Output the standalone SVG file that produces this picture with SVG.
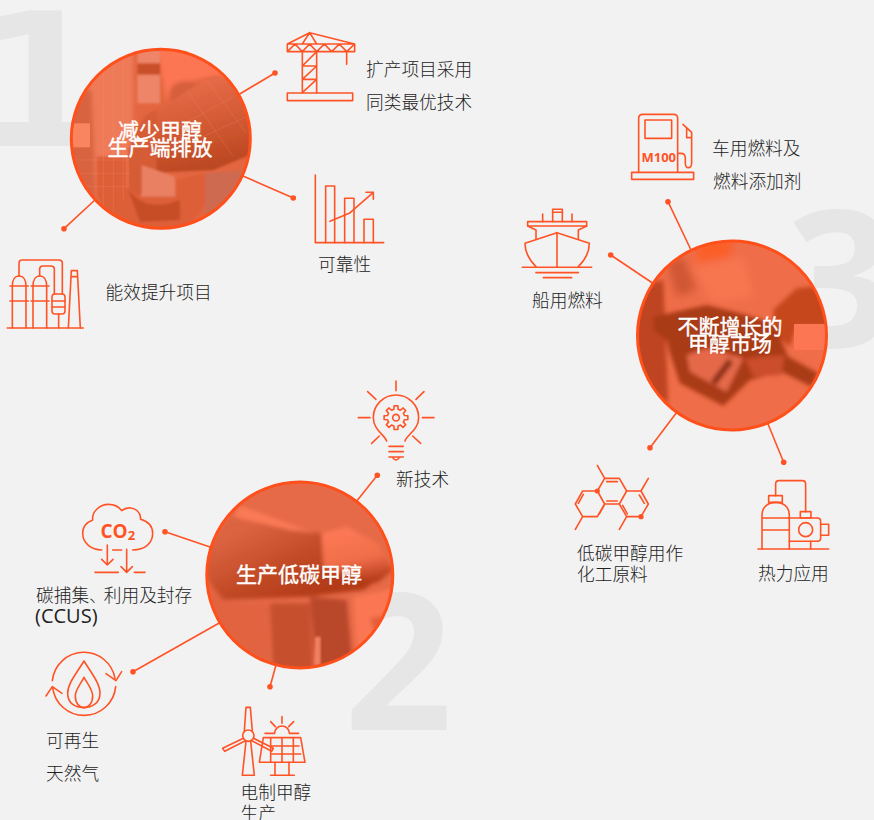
<svg xmlns="http://www.w3.org/2000/svg" width="874" height="820" viewBox="0 0 874 820">
<style>
.num{font-family:"Open Sans","DejaVu Sans",sans-serif;font-weight:700;font-size:190px;fill:#e6e6e6}
.lb{font-family:"Noto Sans CJK SC","Noto Sans",sans-serif;font-size:17.7px;font-weight:300;fill:#222}
.lat{font-family:"Open Sans","Noto Sans CJK SC",sans-serif;font-size:20px;fill:#222}
.tt{font-family:"Noto Sans CJK SC",sans-serif;font-size:21px;font-weight:400;fill:#fff;text-anchor:middle;stroke:#fff;stroke-width:.4}
.ic{fill:none;stroke:#ff5326;stroke-width:4.8;stroke-linejoin:round;stroke-linecap:round}
.icb{font-family:"Open Sans",sans-serif;font-weight:700;fill:#ff5326}
.con line{stroke:#ff5326;stroke-width:1.6}
.con circle{fill:#ff5326}
.ring{fill:none;stroke:#ff4f1a;stroke-width:3}
</style>
<defs>
<clipPath id="c1"><circle cx="160.8" cy="138.8" r="89"/></clipPath>
<clipPath id="c2"><circle cx="299.8" cy="575" r="93"/></clipPath>
<clipPath id="c3"><circle cx="732" cy="335.5" r="95"/></clipPath>
<filter id="b3" x="-15%" y="-15%" width="130%" height="130%"><feGaussianBlur stdDeviation="3"/></filter>
<filter id="b6" x="-15%" y="-15%" width="130%" height="130%"><feGaussianBlur stdDeviation="6"/></filter>
<filter id="b12" x="-15%" y="-15%" width="130%" height="130%"><feGaussianBlur stdDeviation="12"/></filter>
<linearGradient id="p1" gradientUnits="userSpaceOnUse" x1="560" y1="260" x2="620" y2="520"><stop offset="0" stop-color="#e56a46"/><stop offset=".55" stop-color="#cf5730"/><stop offset="1" stop-color="#b8451f"/></linearGradient>
<linearGradient id="p2" gradientUnits="userSpaceOnUse" x1="230" y1="440" x2="350" y2="690"><stop offset="0" stop-color="#dc6441"/><stop offset=".6" stop-color="#c04824"/><stop offset="1" stop-color="#b23a18"/></linearGradient>
<linearGradient id="p3" gradientUnits="userSpaceOnUse" x1="470" y1="490" x2="500" y2="640"><stop offset="0" stop-color="#fc7854"/><stop offset=".55" stop-color="#f06d49"/><stop offset="1" stop-color="#b63d1c"/></linearGradient>
</defs>
<rect width="874" height="820" fill="#f2f2f2"/>
<g id="digits">
<text class="num" x="-24" y="146" style="font-family:'DejaVu Sans',sans-serif;font-size:186px">1</text>
<text class="num" x="344" y="730">2</text>
<text class="num" x="786" y="347">3</text>
</g>
<g class="con" id="connectors">
<line x1="275" y1="73" x2="238" y2="95"/><circle cx="275" cy="73" r="2.8"/>
<line x1="293.3" y1="198" x2="243" y2="176"/><circle cx="293.3" cy="198" r="2.8"/>
<line x1="64" y1="228.7" x2="96" y2="199"/><circle cx="64" cy="228.7" r="2.8"/>
<line x1="668" y1="201.7" x2="691" y2="250"/><circle cx="668" cy="201.7" r="2.8"/>
<line x1="610.7" y1="255" x2="654" y2="284"/><circle cx="610.7" cy="255" r="2.8"/>
<line x1="650" y1="447.7" x2="677" y2="412"/><circle cx="650" cy="447.7" r="2.8"/>
<line x1="783.7" y1="462.3" x2="768" y2="424"/><circle cx="783.7" cy="462.3" r="2.8"/>
<line x1="377.3" y1="475.3" x2="356" y2="502"/><circle cx="377.3" cy="475.3" r="2.8"/>
<line x1="165" y1="531.7" x2="213" y2="548"/><circle cx="165" cy="531.7" r="2.8"/>
<line x1="133" y1="671.7" x2="221" y2="622"/><circle cx="133" cy="671.7" r="2.8"/>
<line x1="270" y1="686.7" x2="276" y2="665"/><circle cx="270" cy="686.7" r="2.8"/>
</g>
<g id="node-reduce">
<g clip-path="url(#c1)">
<rect x="70" y="48" width="182" height="182" fill="#e36640"/>
<g transform="scale(.3333)">
<g filter="url(#b6)">
<polygon points="470,140 760,140 760,300 660,225 560,245 500,300" fill="#fd7653"/>
<polygon points="205,140 400,140 400,700 205,700" fill="#ee7a58"/>
<polygon points="205,270 275,270 290,620 205,620" fill="#d9633f"/>
<ellipse cx="555" cy="285" rx="48" ry="42" fill="#d75f3a"/>
</g>
<rect x="215" y="370" width="55" height="72" fill="#f98560"/>
<g filter="url(#b3)">
<rect x="412" y="150" width="68" height="160" fill="#ee8567"/>
<rect x="412" y="190" width="68" height="34" fill="#c9502a"/>
<path d="M430,345 L520,300 L620,235 L690,230 L750,340 L750,465 L640,510 L430,520 Z" fill="url(#p1)"/>
<path d="M385,450 C420,360 440,340 470,330 L470,560 L385,600 Z" fill="#d65c35"/>
<path d="M290,470 L290,590 Q340,690 450,690 Q590,690 615,610 L615,520 L530,540 L530,590 L420,590 L380,560 L380,470 Z" fill="#dd5f38"/>
<polygon points="425,495 525,530 525,590 425,590" fill="#e98062"/>
<path d="M385,570 Q440,640 540,600 L540,660 L420,665 Z" fill="#c64d27"/>
<polygon points="615,520 750,510 750,640 615,650" fill="#cd6b50"/>
</g>
<path d="M310,170 V640 M340,150 V660 M370,150 V600 M215,480 H390 M215,520 H390 M220,560 H390 M560,270 L700,470 M620,240 L740,400 M500,400 L700,290 M520,450 L740,350" fill="none" stroke="#f7a184" stroke-width="1.6" opacity=".35"/>
</g>
</g>
<circle class="ring" cx="160.8" cy="138.8" r="89.5"/>
<text class="tt" x="160" y="138">减少甲醇</text>
<text class="tt" x="160" y="155">生产端排放</text>
</g>
<g id="node-expand">
<g class="ic" transform="translate(270 20) scale(.3333)">
<path d="M52,72 L119,38 L254,72 M52,72 H254 V95 H52 Z M52,95 L75,72 L97,95 L119,72 L140,95 L163,72 L185,95 L208,72 L230,95 L254,72 M97,72 L119,38 L140,72"/>
<path d="M97,95 V218 M140,95 V218 M97,138 H140 M97,178 H140 M97,138 L140,95 M97,178 L140,138 M97,218 L140,178"/>
<rect x="52" y="219" width="196" height="23"/>
<path d="M230,95 V133"/>
</g>
<text class="lb" x="366" y="76">扩产项目采用</text>
<text class="lb" x="366" y="109">同类最优技术</text>
</g>
<g id="node-reliability">
<g class="ic" transform="translate(270 20) scale(.3333)">
<path d="M136,465 V668 H341"/>
<path d="M167,668 V498 H194 V668 M224,668 V535 H252 V668 M282,668 V598 H310 V668"/>
<path d="M180,604 L238,580 L310,517 M288,517 H310 V538"/>
</g>
<text class="lb" x="318" y="271">可靠性</text>
</g>
<g id="node-efficiency">
<g class="ic" transform="scale(.3333)">
<path d="M22,984 H250"/>
<path d="M37,984 V858 C37,840 45,828 57,828 C70,828 78,840 78,858 V984 M99,984 V858 C99,840 107,828 119,828 C132,828 140,840 140,858 V984"/>
<path d="M30,858 H85 M30,903 H85 M93,858 H147 M93,903 H147"/>
<path d="M57,828 V790 Q57,780 67,780 H177 Q187,780 187,790 V882 M119,828 V808 Q119,798 129,798 H153 Q163,798 163,808 V882"/>
<rect x="156" y="882" width="39" height="60" rx="9"/>
<path d="M156,903 H195 M156,921 H195 M176,942 V984"/>
<path d="M205,984 L214,812 H232 L241,984 M214,830 H232"/>
</g>
<text class="lb" x="105.500" y="299">能效提升项目</text>
</g>
<g id="node-market">
<g clip-path="url(#c3)">
<rect x="636" y="239" width="192" height="193" fill="#ef6d49"/>
<g transform="translate(510 100) scale(.3333)">
<g filter="url(#b12)">
<polygon points="560,415 670,415 660,470 560,490" fill="#fb5f25"/>
<polygon points="550,500 700,470 730,590 610,610" fill="#f87650"/>
<polygon points="470,480 520,470 560,570 500,590" fill="#cf5733"/>
</g>
<g filter="url(#b6)">
<polygon points="375,560 460,540 475,910 430,880 375,800" fill="#bf4520"/>
<polygon points="790,630 860,565 955,555 955,680 860,680 840,740 790,700" fill="#c6461f"/>
<path d="M430,650 L590,615 L690,640 L790,670 L835,770 L925,820 L905,860 L815,815 L720,840 L640,918 L510,850 L480,760 L470,720 L430,690 Z" fill="#a93a17"/>
<path d="M530,765 L590,745 L700,775 L650,875 L540,815 Z" fill="#e5694a"/>
<path d="M610,850 L662,782" stroke="#8c2f12" stroke-width="20" fill="none"/>
<polygon points="705,775 825,765 815,825 730,830" fill="#cb4e29"/>
</g>
<rect x="852" y="672" width="105" height="78" fill="#fd7653"/>
</g>
</g>
<circle class="ring" cx="732" cy="335.5" r="94.5"/>
<text class="tt" x="730" y="334">不断增长的</text>
<text class="tt" x="730" y="351">甲醇市场</text>
</g>
<g id="node-vehicle">
<g class="ic" transform="translate(510 100) scale(.3333)">
<path d="M386,215 V55 Q386,43 398,43 H491 Q503,43 503,55 V215"/>
<rect x="405" y="60" width="80" height="55"/>
<rect x="365" y="217" width="186" height="21"/>
<path d="M503,160 H513 Q526,160 526,175 V188 Q526,203 535,203 Q545,203 545,188 V97 L519,73 M530,85 V113 H545"/>
</g>
<text class="icb" x="641.5" y="162" font-size="13">M100</text>
<text class="lb" x="712" y="155">车用燃料及</text>
<text class="lb" x="713" y="188">燃料添加剂</text>
</g>
<g id="node-ship">
<g class="ic" transform="translate(510 100) scale(.3333)">
<rect x="53" y="365" width="177" height="13"/>
<path d="M128,365 V328 H157 V365 M128,337 H157 M98,342 V365 M186,342 V365"/>
<path d="M53,378 L78,390 V418 M230,378 L205,390 V418"/>
<path d="M78,500 C58,480 45,460 45,430 L141,398 L238,430 C238,460 225,480 205,500"/>
<path d="M141,398 V502 M37,502 H245 M78,518 H205 M100,533 H185"/>
</g>
<text class="lb" x="532" y="307">船用燃料</text>
</g>
<g id="node-chem">
<g class="ic" transform="translate(560 440) scale(.3333)">
<path d="M112,153 H68 L46,192 L68,230 H112 L134,192 L112,153 L134,115 H178 L200,153 L178,192 H134"/>
<path d="M200,153 H243 L265,192 L243,230 H200 L178,192"/>
<path d="M112,76 L134,115 M243,153 L265,115 M68,230 L46,268 M200,230 L178,268"/>
<path d="M70,163 L55,190 M118,222 L132,196 M140,125 H172 M140,183 H172 M188,196 L202,222 M238,165 L253,190"/>
</g>
<circle cx="597.3" cy="491" r="2.6" fill="#ff5326"/>
<circle cx="641" cy="516.7" r="2.6" fill="#ff5326"/>
<text class="lb" x="577" y="560">低碳甲醇用作</text>
<text class="lb" x="577" y="581">化工原料</text>
</g>
<g id="node-heat">
<g class="ic" transform="translate(560 440) scale(.3333)">
<path d="M594,327 H806"/>
<path d="M606,327 V225 C606,200 625,187 647,187 C670,187 688,200 688,225 V327 M606,234 H688 M606,270 H688"/>
<rect x="626" y="167" width="41" height="20"/>
<path d="M647,167 V132 Q647,122 657,122 H727 Q737,122 737,132 V215"/>
<rect x="721" y="215" width="32" height="19"/>
<path d="M688,234 H772 Q782,234 782,244 V294 Q782,304 772,304 H688"/>
<circle cx="737" cy="269" r="21"/>
<path d="M782,253 H806 V286 H782 M752,304 V327"/>
</g>
<text class="lb" x="758" y="580">热力应用</text>
</g>
<g id="node-lowcarbon">
<g clip-path="url(#c2)">
<rect x="205" y="480" width="190" height="190" fill="#e66a47"/>
<g transform="translate(190 370) scale(.3333)">
<g filter="url(#b6)">
<polygon points="40,600 60,520 150,400 340,480 395,490 400,570 560,600 570,625 520,660 350,680 100,690 60,640" fill="url(#p2)"/>
<polygon points="150,405 340,478 380,490 300,480 130,440" fill="#fb7a56"/>
<polygon points="395,490 470,470 560,520 610,600 560,640 400,590" fill="url(#p3)"/>
<polygon points="60,640 100,690 240,700 240,910 60,820" fill="#e2643f"/>
<polygon points="240,700 360,700 370,910 250,910" fill="#c6502f"/>
<polygon points="360,680 470,690 490,910 380,910" fill="#b9472a"/>
<polygon points="490,680 620,655 620,730 540,745 560,800 500,840" fill="#fb7752"/>
<polygon points="540,745 620,730 600,810 565,810" fill="#e0603c"/>
</g>
<polygon points="375,800 392,800 392,885 372,885" fill="#f08060" filter="url(#b3)"/>
</g>
</g>
<circle class="ring" cx="299.8" cy="575" r="93"/>
<text class="tt" x="299" y="582">生产低碳甲醇</text>
</g>
<g id="node-newtech">
<g class="ic" transform="translate(190 370) scale(.3333)">
<path d="M590,213 C585,195 550,180 550,143 A68,68 0 0 1 686,143 C686,180 650,195 645,213"/>
<path d="M618,33 V62 M533,65 L558,88 M702,65 L678,88 M505,143 H540 M697,143 H732 M545,220 L568,198 M692,220 L668,198"/>
<path d="M597,229 H640 M597,245 H640 M597,261 H640 M608,263 Q618,277 628,263"/>
<g transform="translate(618 143)"><polygon points="25.2,-6.3 35.6,-5.6 35.6,5.6 25.2,6.3 22.3,13.4 29.1,21.2 21.2,29.1 13.4,22.3 6.3,25.2 5.6,35.6 -5.6,35.6 -6.3,25.2 -13.4,22.3 -21.2,29.1 -29.1,21.2 -22.3,13.4 -25.2,6.3 -35.6,5.6 -35.6,-5.6 -25.2,-6.3 -22.3,-13.4 -29.1,-21.2 -21.2,-29.1 -13.4,-22.3 -6.3,-25.2 -5.6,-35.6 5.6,-35.6 6.3,-25.2 13.4,-22.3 21.2,-29.1 29.1,-21.2 22.3,-13.4"/><circle r="10"/></g>
</g>
<text class="lb" x="396" y="486">新技术</text>
</g>
<g id="node-ccus">
<g class="ic" transform="translate(20 490) scale(.3333)">
<path d="M245,180 C215,180 188,160 188,130 C188,105 205,95 218,90 C215,65 240,43 265,43 C285,43 298,52 305,62 C320,50 345,50 358,70 C362,78 362,85 362,88 C385,95 398,110 398,130 C398,160 375,180 338,180 M278,180 H305"/>
<path d="M262,165 V225 M245,208 L262,225 L279,208 M320,178 V247 M303,230 L320,247 L337,230 M225,247 H295 M343,247 H375"/>
</g>
<text class="icb" x="100.500" y="538" font-size="19">CO<tspan font-size="13" dy="2">2</tspan></text>
<text class="lb" x="36" y="602">碳捕集、<tspan dx="-3">利用及封存</tspan></text>
<text class="lat" x="35" y="623">(CCUS)</text>
</g>
<g id="node-rng">
<g class="ic" transform="translate(20 490) scale(.3333)">
<path d="M97,572 A95,95 0 0 1 285,565 M287,590 A95,95 0 0 1 98,592"/>
<path d="M258,551 L288,572 L305,545 M78,618 L97,590 L126,610"/>
<path d="M192,513 C215,550 240,580 240,610 C240,640 215,653 192,653 C165,653 143,640 143,610 C143,580 170,550 192,513 Z"/>
<path d="M192,562 C205,585 218,600 218,618 C218,640 205,653 192,653 C178,653 166,640 166,618 C166,600 180,585 192,562 Z"/>
</g>
<text class="lb" x="46" y="747">可再生</text>
<text class="lb" x="46" y="780">天然气</text>
</g>
<g id="node-power">
<g class="ic" transform="translate(210 670) scale(.3333)">
<circle cx="115" cy="197" r="17"/>
<path d="M103,183 L108,112 H121 L127,183 M100,205 L38,235 L44,244 L105,213 M131,205 L190,235 L185,244 L127,213 M108,214 L97,316 H133 L122,214"/>
<path d="M160,203 H272 L285,277 H148 Z M182,203 V277 M216,203 V277 M250,203 V277 M183,228 H267 M182,252 H272"/>
<path d="M195,277 V316 M237,277 V316 M182,316 H253"/>
<path d="M194,190 A22,22 0 0 1 238,190 M165,190 H194 M238,190 H266 M216,140 V160 M182,155 L196,170 M251,155 L236,170"/>
</g>
<text class="lb" x="240.500" y="799">电制甲醇</text>
<text class="lb" x="240.500" y="820">生产</text>
</g>
</svg>
